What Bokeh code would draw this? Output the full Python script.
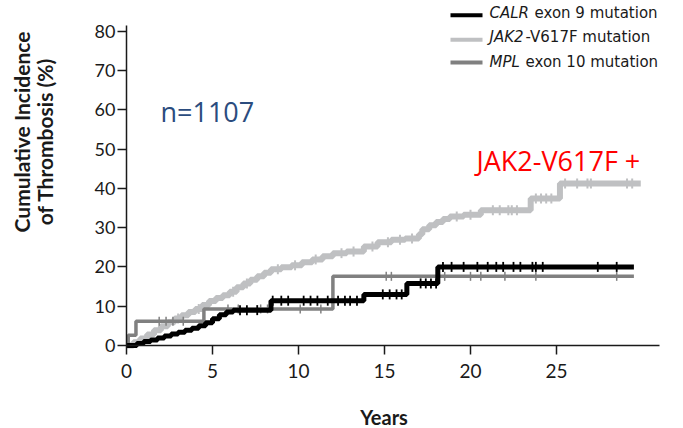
import numpy as np
from bokeh.plotting import figure
from bokeh.models import Range1d, Label, FixedTicker
from bokeh.embed import file_html
from bokeh.resources import INLINE

# ---------------- data ----------------
calr_t = [0, 0.6, 1.0, 1.4, 1.8, 2.2, 2.6, 3.0, 3.4, 3.8, 4.2, 4.6, 5.0, 5.4, 5.8, 6.2, 8.4, 13.8, 16.3, 18.1, 29.5]
calr_v = [0, 0.5, 1.0, 1.4, 1.9, 2.4, 2.9, 3.4, 3.9, 4.4, 5.0, 5.8, 6.8, 7.8, 8.5, 9.0, 11.4, 13.0, 15.8, 20.0, 20.0]
calr_cens = [6.6, 7.0, 7.6, 8.5, 9.0, 9.4, 10.3, 10.7, 11.1, 11.7, 12.3, 12.7, 13.0, 13.4, 14.9, 15.3,
             15.7, 16.0, 17.1, 17.4, 17.7, 18.0, 18.4, 18.9, 19.6, 20.4, 21.0, 21.5, 21.9, 22.5, 22.9,
             23.6, 23.8, 24.2, 27.4, 28.5]

jak2_t = [0, 0.4, 0.8, 1.2, 1.6, 2.0, 2.4, 2.8, 3.2, 3.6, 4.0, 4.4, 4.8, 5.2, 5.6, 6.0, 6.4, 6.8, 7.2,
          7.6, 8.0, 8.4, 9.0, 9.6, 10.2, 10.8, 11.4, 12.0, 12.8, 13.8, 14.6, 15.4, 16.2, 17.0, 17.2,
          17.6, 18.0, 18.4, 18.8, 19.6, 20.6, 23.5, 25.2, 29.9]
jak2_v = [0, 0.8, 1.8, 2.8, 3.9, 4.9, 5.9, 6.9, 7.7, 8.5, 9.3, 10.3, 11.3, 12.1, 12.8, 13.7, 14.8, 15.8,
          16.7, 17.6, 18.5, 19.4, 19.9, 20.4, 21.2, 21.9, 22.7, 23.5, 23.9, 25.2, 26.3, 26.9, 27.2,
          28.3, 29.6, 30.6, 31.4, 32.2, 32.8, 33.3, 34.4, 37.4, 41.2, 41.2]
jak2_cens = [3.0, 4.2, 6.2, 7.0, 8.8, 9.8, 11.0, 12.5, 13.2, 14.3, 15.2, 15.9, 16.6, 19.2, 20.0, 21.3,
             21.7, 22.2, 22.4, 22.7, 23.8, 24.1, 24.4, 24.7, 25.5, 26.2, 26.8, 27.0, 29.1, 29.4]

mpl_t = [0, 0.1, 0.55, 4.5, 12.0, 29.5]
mpl_v = [0, 2.6, 6.2, 9.3, 17.6, 17.6]
mpl_cens = [1.9, 2.3, 2.7, 3.3, 5.9, 6.5, 7.8, 8.2, 10.1, 11.3, 15.1, 15.4, 18.5, 20.0, 20.6, 22.0, 23.8, 28.5]

x_ticks = [0, 5, 10, 15, 20, 25]
y_ticks = [0, 10, 20, 30, 40, 50, 60, 70, 80]
x_axis_extent = (0, 31)
y_axis_extent = (0, 81.5)

series_names = [("CALR", " exon 9 mutation"), ("JAK2", "-V617F mutation"), ("MPL", " exon 10 mutation")]
n_text = "n=1107"
highlight_text = "JAK2-V617F +"
x_title = "Years"
y_title = ["Cumulative Incidence", "of Thrombosis (%)"]

# ---------------- layout ----------------
W, H = 683, 428
X0_PX, Y0_PX = 126, 345      # pixel position of the data origin
PX_X = 17.2
PX_Y = 3.93


def px2x(px):
    return (px - X0_PX) / PX_X


def px2y(py):
    return (Y0_PX - py) / PX_Y


C_CALR = "#000000"
C_JAK2 = "#bfc0c2"
C_MPL = "#808080"
TXT = "#1a1a1a"

p = figure(width=W, height=H, output_backend="svg", toolbar_location=None,
           x_range=Range1d(px2x(0), px2x(W)), y_range=Range1d(px2y(H), px2y(0)),
           min_border_left=0, min_border_right=0, min_border_top=0, min_border_bottom=0)
p.title.visible = False
p.outline_line_color = None
p.grid.visible = False
p.background_fill_color = "white"
p.border_fill_color = "white"

for ax, ticks, ext in ((p.xaxis[0], x_ticks, x_axis_extent), (p.yaxis[0], y_ticks, y_axis_extent)):
    ax.fixed_location = 0
    ax.ticker = FixedTicker(ticks=ticks)
    ax.bounds = ext
    ax.axis_line_width = 1.5
    ax.axis_line_color = TXT
    ax.major_tick_line_color = TXT
    ax.major_tick_line_width = 1.5
    ax.major_tick_in = 0
    ax.major_tick_out = 9
    ax.minor_tick_line_color = None
    ax.major_label_text_font = "Lato"
    ax.major_label_text_color = TXT

p.xaxis.major_label_text_font_size = "19px"
p.xaxis.major_label_standoff = 9
p.yaxis.major_label_text_font_size = "18px"
p.yaxis.major_label_standoff = 2


def step_vals(ts, vs, cs):
    ts = np.asarray(ts)
    vs = np.asarray(vs)
    idx = np.searchsorted(ts, np.asarray(cs), side="right") - 1
    return vs[idx]


# curves
p.step(x=jak2_t, y=jak2_v, mode="after", line_color=C_JAK2, line_width=6)
p.scatter(x=jak2_cens, y=step_vals(jak2_t, jak2_v, jak2_cens), marker="dash", angle=np.pi / 2,
          size=10, line_color=C_JAK2, line_width=2)
p.step(x=mpl_t, y=mpl_v, mode="after", line_color=C_MPL, line_width=3.5)
p.scatter(x=mpl_cens, y=step_vals(mpl_t, mpl_v, mpl_cens), marker="dash", angle=np.pi / 2,
          size=9, line_color=C_MPL, line_width=1.5)
p.step(x=calr_t, y=calr_v, mode="after", line_color=C_CALR, line_width=5)
p.scatter(x=calr_cens, y=step_vals(calr_t, calr_v, calr_cens), marker="dash", angle=np.pi / 2,
          size=10, line_color=C_CALR, line_width=1.8)

BASE_FIX = 0.43  # em shift to place the alphabetic baseline where wanted


def base_y(py, fs):
    return px2y(py - BASE_FIX * fs)


# legend (manual, to allow italic gene names)
leg_colors = [C_CALR, C_JAK2, C_MPL]
leg_line_y = [14.7, 39.3, 62.0]
leg_base_y = [19.0, 43.3, 67.5]
leg_rest_x = [534, 525, 525]
for (gene, rest), col, ly, by, rx in zip(series_names, leg_colors, leg_line_y, leg_base_y, leg_rest_x):
    p.segment(x0=[px2x(450)], y0=[px2y(ly)], x1=[px2x(482)], y1=[px2y(ly)], line_color=col, line_width=4)
    p.add_layout(Label(x=px2x(489), y=base_y(by, 15), text=gene, text_font="DejaVu Sans",
                       text_font_style="italic", text_font_size="15px", text_color=TXT,
                       text_baseline="alphabetic"))
    p.add_layout(Label(x=px2x(rx), y=base_y(by, 15), text=rest, text_font="DejaVu Sans",
                       text_font_size="15px", text_color=TXT, text_baseline="alphabetic"))

# annotations
p.add_layout(Label(x=px2x(160), y=base_y(123, 27), text=n_text, text_font="Open Sans", text_font_size="27px",
                   text_color="#2b4c7e", text_baseline="alphabetic"))
p.add_layout(Label(x=px2x(476), y=base_y(172, 27), text=highlight_text, text_font="Open Sans",
                   text_font_size="27px", text_color="#ff0000", text_baseline="alphabetic"))

# axis titles
p.add_layout(Label(x=px2x(383.5), y=base_y(425, 20), text=x_title, text_font="Lato", text_font_style="bold",
                   text_font_size="20px", text_color=TXT, text_align="center", text_baseline="alphabetic"))
for txt, cx, cy in zip(y_title, [21, 44], [131.5, 141]):
    p.add_layout(Label(x=px2x(cx), y=px2y(cy), text=txt, text_font="Lato", text_font_style="bold",
                       text_font_size="21px", text_color=TXT, text_align="center", text_baseline="middle",
                       angle=np.pi / 2))

open("out.html", "w").write(file_html(p, INLINE))
